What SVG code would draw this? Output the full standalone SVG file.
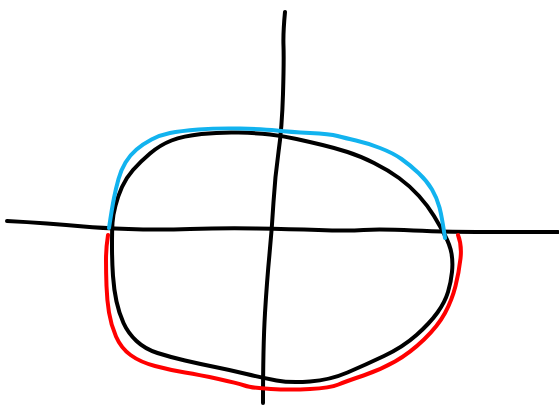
<svg xmlns="http://www.w3.org/2000/svg" width="559" height="408" viewBox="0 0 559 408">
<style>
.s{fill:none;stroke-width:4;stroke-linecap:round;stroke-linejoin:round}
.k{stroke:#000}
.b{stroke:#12b3ef}
.r{stroke:#ff0000}
</style>
<rect width="559" height="408" fill="#fff"/>
<g id="axes">
<path class="s k" d="M7,221 Q27,222 47,223.5 Q67,225 83.5,226.5 Q100,228 128.5,229 Q157,230 190,229 Q223,228 256.5,228.5 Q290,229 318.5,230 Q347,231 363.5,230 Q380,229 413.5,230.5 Q447,232 502.5,232 L558,232"/>
<path class="s k" d="M285,12 Q283,33 283.5,46 Q284,60 283,94 Q282,128 278.5,152 Q275,177 273.5,202 Q272,228 269.5,254 Q267,280 265,313 Q263,347 263,403"/>
</g>
<g id="black-curve">
<path class="s k" d="M112,246 Q112,230 112.5,222.5 Q113,215 115.5,205.5 Q118,196 122,187 Q126,178 133,170 Q140,162 150,153.5 Q160,145 171.5,140.5 Q183,136 201.5,134 Q220,132 238.5,132.5 Q257,133 270,134.5 Q283,136 296.5,139 Q310,142 322.5,145 Q335,148 347.5,152 Q360,156 374,163 Q388,170 399,178 Q410,186 419,196 Q428,206 434,216 Q440,226 445,235.5 Q450,245 451.5,253.5 Q453,262 452,272 Q451,282 448,292 Q445,302 437.5,312.5 Q430,323 416.5,335 Q403,347 384,356 Q365,365 347.5,372.5 Q330,380 310,381.5 Q290,383 276.5,380.5 Q263,378 246.5,374 Q230,370 215,367 Q200,364 185,360.5 Q170,357 157.5,353 Q145,349 136.5,341 Q128,333 123.5,323 Q119,313 116.5,301.5 Q114,290 113,276 Q112,262 112,246 Z"/>
</g>
<g id="red-curve">
<path class="s r" d="M108,235 Q106,248 106,260 Q106,272 106.5,286 Q107,300 109,312.5 Q111,325 116,336.5 Q121,348 130.5,355 Q140,362 155,366 Q170,370 185,372.5 Q200,375 218.5,379 Q237,383 244.5,385.5 Q252,388 271,389 Q290,390 310,389 Q330,388 338.5,384.5 Q347,381 363.5,375.5 Q380,370 395,361.5 Q410,353 424,339.5 Q438,326 445,313 Q452,300 455.5,286 Q459,272 460.5,258.5 Q462,245 458,235"/>
</g>
<g id="blue-curve">
<path class="s b" d="M109,228 Q112,208 114,198 Q116,188 118.5,179 Q121,170 125.5,162.5 Q130,155 136.5,149.5 Q143,144 151.5,139.5 Q160,135 170,133 Q180,131 198.5,129.5 Q217,128 240,128.5 Q263,129 276.5,130.5 Q290,132 310,133 Q330,134 337.5,136 Q345,138 356,140.5 Q367,143 380,148 Q393,153 401.5,159 Q410,165 418.5,173 Q427,181 432,189.5 Q437,198 439.5,207.5 Q442,217 445,238"/>
</g>
</svg>
